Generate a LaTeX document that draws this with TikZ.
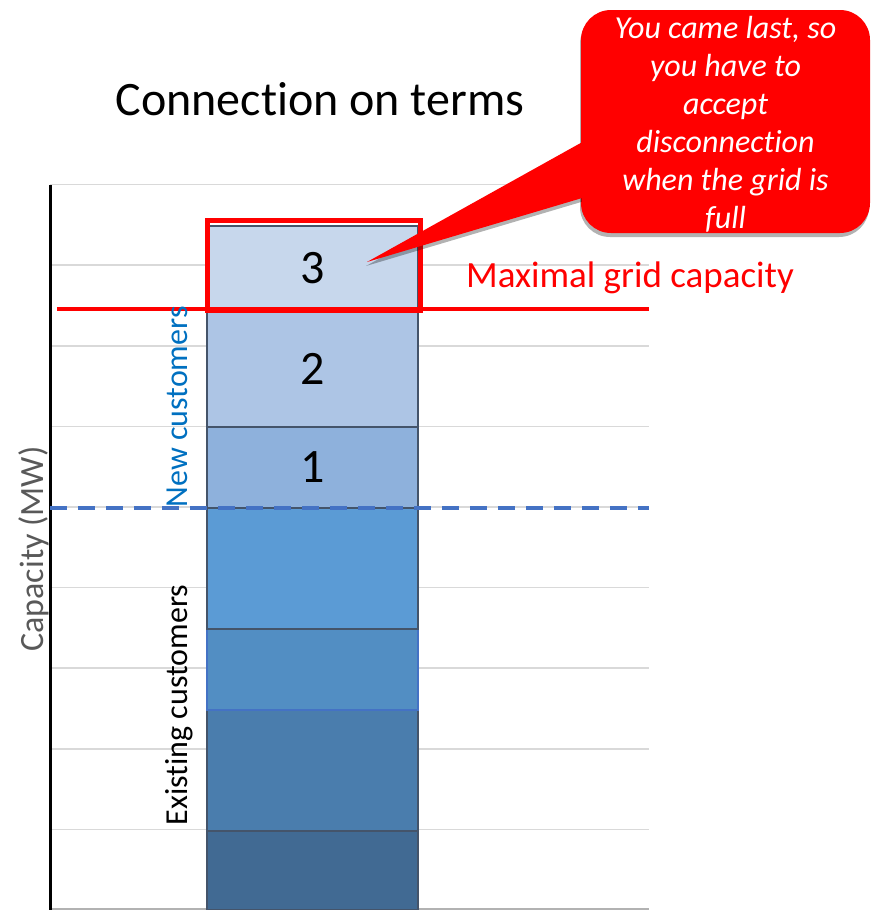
\documentclass[tikz,border=0pt]{standalone}
\usepackage{fontspec}
\setmainfont{Carlito}[Ligatures=NoCommon]
\usetikzlibrary{positioning,shadows}

\definecolor{gridgray}{HTML}{D9D9D9}
\definecolor{segline}{HTML}{44546A}
\definecolor{dashblue}{HTML}{4472C4}
\definecolor{newblue}{HTML}{0070C0}
\definecolor{axisgray}{HTML}{595959}
\definecolor{exA}{HTML}{416A93}
\definecolor{exB}{HTML}{4A7DAD}
\definecolor{exC}{HTML}{528EC3}
\definecolor{exD}{HTML}{5B9BD5}
\definecolor{nwA}{HTML}{8EB1DC}
\definecolor{nwB}{HTML}{ADC5E5}
\definecolor{nwC}{HTML}{C7D7EC}

\begin{document}
\begin{tikzpicture}[x=1pt,y=-1pt,
    seg/.style={draw=segline,line width=1.5pt,minimum width=211pt,inner sep=0pt,outer sep=0pt,
        font=\fontsize{48}{58}\selectfont},
    vlabel/.style={rotate=90,anchor=base,font=\fontsize{32}{38}\selectfont},
    myshadow/.style={drop shadow={shadow xshift=-1pt,shadow yshift=-4pt,opacity=.3,fill=black}},
    callout/.style={fill=red,rounded corners=30pt,minimum width=289pt,minimum height=223pt,
        inner sep=0pt,myshadow},
    callouttext/.style={text=white,align=center,inner sep=0pt,font=\fontsize{32}{38}\selectfont\itshape}]
\useasboundingbox (0,0) rectangle (871,910);

    % grid lines
    \foreach \k in {1,...,9}
        \draw[gridgray,line width=1.5pt] (50,{910-80.6*\k}) -- (649,{910-80.6*\k});
    \draw[gray!60,line width=1.5pt] (50,909) -- (649,909);

% Stacked bar: existing customers
    \node[seg,fill=exA,minimum height=79pt] (ex1) at (312.5,870.5) {};
    \node[seg,fill=exB,minimum height=121pt,above=0pt of ex1] (ex2) {};
    \node[seg,fill=exC,draw=dashblue,minimum height=81pt,above=0pt of ex2] (ex3) {};
    \node[seg,fill=exD,minimum height=121pt,above=0pt of ex3] (ex4) {};

% new customers
    \node[seg,fill=nwA,minimum height=81pt,above=0pt of ex4] (nw1) {1};
    \node[seg,fill=nwB,minimum height=117pt,above=0pt of nw1] (nw2) {2};
    \node[seg,fill=nwC,minimum height=84pt,above=0pt of nw2] (nw3) {3};

    % axis
    \draw[black,line width=3pt] (50,185) -- (50,910);

    \draw[dashblue,line width=4pt,dash pattern=on 17pt off 11pt] (50,508) -- (649,508);
    \draw[red,line width=4pt] (57,309) -- (649,309);
    \draw[red,line width=5pt] (207.5,220.5) rectangle (420.5,310.5);

% Labels
    \node[font=\fontsize{48}{58}\selectfont,anchor=base] (title) at (320,115) {Connection on terms};
    \node[axisgray,rotate=90,anchor=base,font=\fontsize{34}{40}\selectfont] (ylabel) at (43,549) {Capacity (MW)};
    \node[vlabel,newblue] (newcust) at (187,407) {New customers};
    \node[vlabel] (oldcust) at (187,705) {Existing customers};
    \node[red,anchor=base,font=\fontsize{37}{44}\selectfont] (maxcap) at (630,287) {Maximal grid capacity};

% Callout
    \node[callout] (bubble) at (725.5,121.5) {};
    \coordinate (tip) at (367,262);
    \fill[red,myshadow] ([shift={(2pt,-132pt)}]bubble.north west) -- (tip) -- ([shift={(2pt,-188pt)}]bubble.north west) -- cycle;
    \node[callouttext] (bubbletext) at ([yshift=-3pt]bubble.center) {You came last, so\\you have to\\accept\\disconnection\\when the grid is\\full};

\end{tikzpicture}
\end{document}
